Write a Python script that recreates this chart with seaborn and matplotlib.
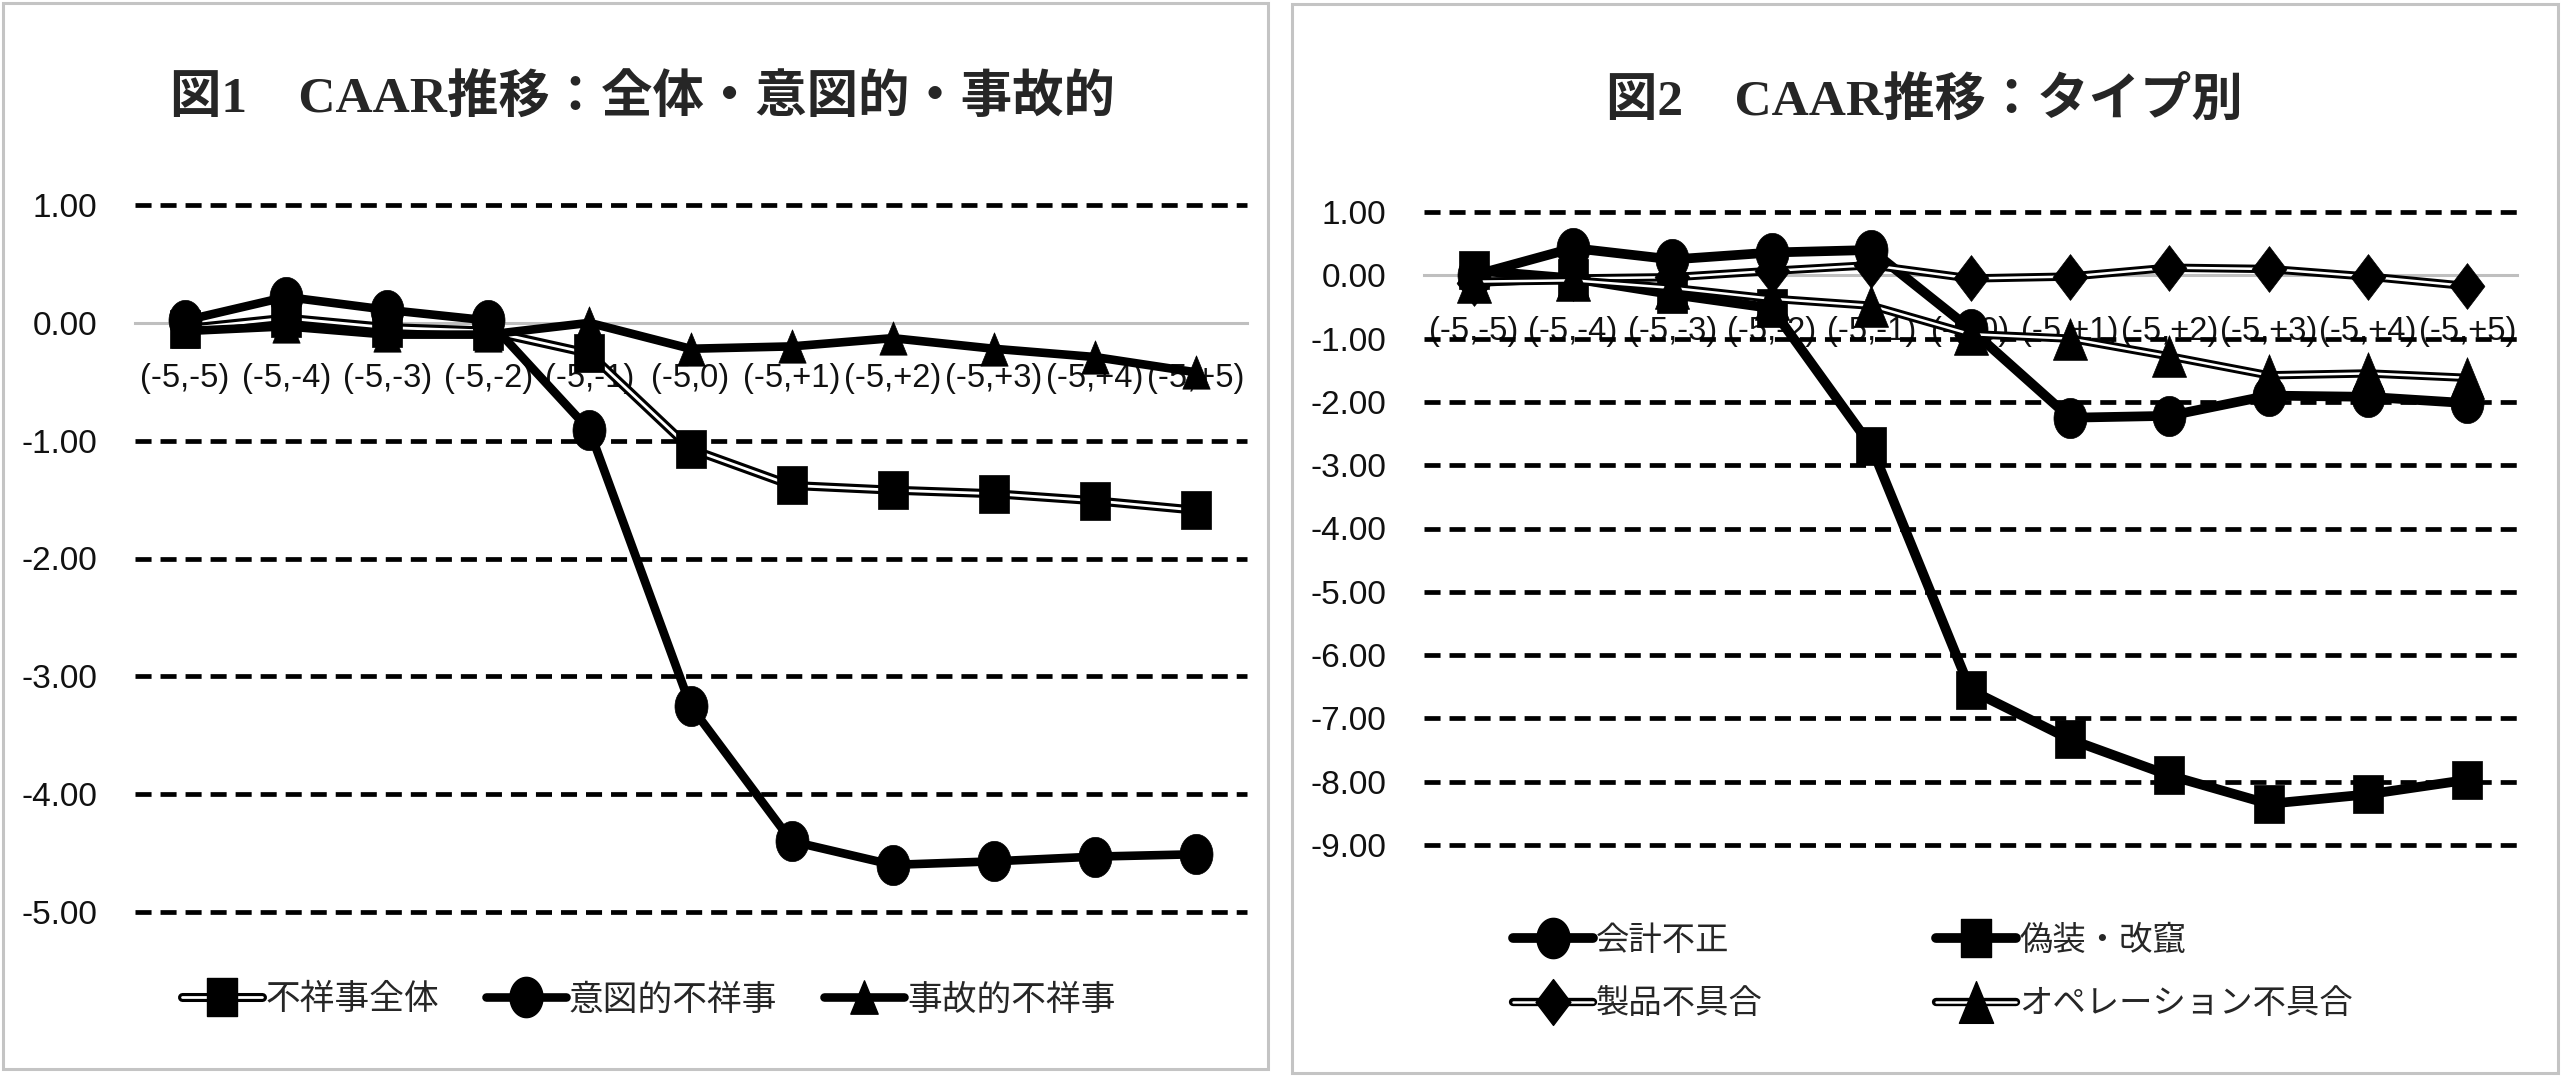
import matplotlib
matplotlib.use('Agg')

import numpy as np
import pandas as pd
import seaborn as sns
import matplotlib.pyplot as plt
from matplotlib.path import Path
from matplotlib.lines import Line2D
from matplotlib.patches import Rectangle

# data (CAAR, %)
periods = ['(-5,-5)', '(-5,-4)', '(-5,-3)', '(-5,-2)', '(-5,-1)', '(-5,0)',
           '(-5,+1)', '(-5,+2)', '(-5,+3)', '(-5,+4)', '(-5,+5)']

# 図1
all_misconduct = [-0.05, 0.04, -0.04, -0.07, -0.26, -1.07, -1.38, -1.42, -1.45, -1.51, -1.59]
intentional = [0.02, 0.22, 0.11, 0.02, -0.91, -3.25, -4.40, -4.60, -4.57, -4.53, -4.51]
accidental = [-0.07, -0.03, -0.10, -0.10, 0.00, -0.22, -0.20, -0.13, -0.22, -0.29, -0.42]

# 図2
accounting_fraud = [0.00, 0.43, 0.25, 0.36, 0.40, -0.85, -2.25, -2.22, -1.90, -1.92, -2.02]
falsification = [0.08, -0.05, -0.30, -0.52, -2.70, -6.55, -7.33, -7.90, -8.35, -8.20, -7.97]
product_defect = [-0.12, -0.05, -0.03, 0.07, 0.16, -0.05, -0.02, 0.12, 0.10, -0.02, -0.17]
operation_defect = [-0.10, -0.08, -0.20, -0.37, -0.48, -0.93, -1.00, -1.28, -1.58, -1.55, -1.62]

sns.set_theme(style='white')
plt.rcParams['font.family'] = ['Liberation Sans', 'Noto Sans CJK JP', 'DejaVu Sans']
plt.rcParams['axes.unicode_minus'] = False

W, H = 2563, 1077
fig = plt.figure(figsize=(W / 100, H / 100), dpi=100)
fig.patch.set_facecolor('white')


def px_box(x0, y0, x1, y1):
    # pixel box (top-left origin) -> figure fraction [l, b, w, h]
    return [x0 / W, 1 - y1 / H, (x1 - x0) / W, (y1 - y0) / H]


# slightly narrow markers, like the original
def mk(verts, sx=0.82):
    v = np.array(verts, dtype=float)
    v[:, 0] *= sx
    return Path(v, closed=True)


t = np.linspace(0, 2 * np.pi, 60)
CIRCLE = mk(np.c_[np.cos(t), np.sin(t)])
SQUARE = mk([(-1, -1), (1, -1), (1, 1), (-1, 1), (-1, -1)])
TRIANGLE = mk([(0, 1), (-1, -1), (1, -1), (0, 1)])
DIAMOND = mk([(0, 1), (-1, 0), (0, -1), (1, 0), (0, 1)], sx=0.76)

# panel frames
for box in [(3, 3, 1268, 1069), (1292, 4, 2558, 1073)]:
    x0, y0, x1, y1 = box
    fig.patches.append(Rectangle((x0 / W, 1 - y1 / H), (x1 - x0) / W, (y1 - y0) / H,
                                 transform=fig.transFigure, fill=False,
                                 edgecolor='#c4c4c4', lw=2.2, zorder=0))


def draw_series(ax, values, marker, ms, lw, double=False, inner=2.0):
    df = pd.DataFrame({'x': np.arange(len(periods)), 'y': values})
    sns.lineplot(data=df, x='x', y='y', color='black', lw=lw, ax=ax,
                 solid_capstyle='round', solid_joinstyle='round')
    if double:
        sns.lineplot(data=df, x='x', y='y', color='white', lw=inner, ax=ax,
                     solid_capstyle='butt')
    sns.lineplot(data=df, x='x', y='y', color='black', linestyle='', marker=marker,
                 markersize=ms, markeredgecolor='black', markeredgewidth=0.5, ax=ax)
    if double:
        return (Line2D([], [], color='black', lw=lw),
                Line2D([], [], color='white', lw=inner),
                Line2D([], [], color='black', linestyle='', marker=marker,
                       markersize=ms, markeredgecolor='black'))
    return Line2D([], [], color='black', lw=lw, marker=marker, markersize=ms,
                  markeredgecolor='black')


def style_axes(ax, ymin, ymax):
    ax.set_xlim(-0.5, len(periods) - 0.5)
    ax.set_ylim(ymin, ymax)
    ticks = np.arange(ymin, ymax + 0.01, 1)
    ax.set_yticks(ticks)
    ax.set_yticklabels([f'{v:.2f}' for v in ticks])
    ax.set_xticks(np.arange(len(periods)))
    ax.set_xticklabels(periods)
    ax.set_xlabel('')
    ax.set_ylabel('')
    ax.set_axisbelow(True)
    for s in ['left', 'right', 'top']:
        ax.spines[s].set_visible(False)
    ax.spines['bottom'].set_position(('data', 0))
    ax.spines['bottom'].set_color('#bfbfbf')
    ax.spines['bottom'].set_linewidth(2.2)
    ax.spines['bottom'].set_zorder(0.7)
    ax.tick_params(axis='x', length=0, pad=29, labelsize=23.5, labelcolor='#111111')
    ax.tick_params(axis='y', length=0, pad=27, labelsize=24, labelcolor='#111111')
    for v in ticks:
        if v != 0:
            ax.axhline(v, color='black', lw=3.4, ls=(0, (3.4, 1.9)), zorder=0.6,
                       clip_on=False)
    ax.set_facecolor('none')


title_font = dict(family=['Liberation Serif', 'Noto Sans CJK JP'], weight='bold', size=37)

# ---- 図1
ax1 = fig.add_axes(px_box(134.5, 205, 1246.5, 912))
h1 = draw_series(ax1, all_misconduct, SQUARE, 27, 6.5, double=True, inner=2.0)
h2 = draw_series(ax1, intentional, CIRCLE, 29, 6.2)
h3 = draw_series(ax1, accidental, TRIANGLE, 24, 6.2)
style_axes(ax1, -5, 1)
fig.text(642 / W, 1 - 99 / H, '図1　CAAR推移：全体・意図的・事故的',
         ha='center', va='center', **title_font)
fig.legend([h1, h2, h3], ['不祥事全体', '意図的不祥事', '事故的不祥事'],
           loc='center', bbox_to_anchor=(649 / W, 1 - 1000 / H), ncol=3,
           frameon=False, prop={'family': ['Noto Sans CJK JP'], 'size': 25},
           handlelength=2.3, handletextpad=0.1, columnspacing=1.35, borderpad=0)

# ---- 図2
ax2 = fig.add_axes(px_box(1424, 212, 2517, 845))
g1 = draw_series(ax2, accounting_fraud, CIRCLE, 29, 7)
g2 = draw_series(ax2, falsification, SQUARE, 27, 7)
g3 = draw_series(ax2, product_defect, DIAMOND, 33, 6, double=True, inner=1.8)
g4 = draw_series(ax2, operation_defect, TRIANGLE, 30, 6, double=True, inner=1.8)
style_axes(ax2, -9, 1)
fig.text(1924 / W, 1 - 101 / H, '図2　CAAR推移：タイプ別',
         ha='center', va='center', **title_font)
fig.legend([g1, g3, g2, g4], ['会計不正', '製品不具合', '偽装・改竄', 'オペレーション不具合'],
           loc='center', bbox_to_anchor=(1933 / W, 1 - 972 / H), ncol=2,
           frameon=False, prop={'family': ['Noto Sans CJK JP'], 'size': 24},
           handlelength=2.4, handletextpad=0.1, columnspacing=5.2, borderpad=0,
           labelspacing=0.85)

fig.savefig('out.png', dpi=100, facecolor='white')
